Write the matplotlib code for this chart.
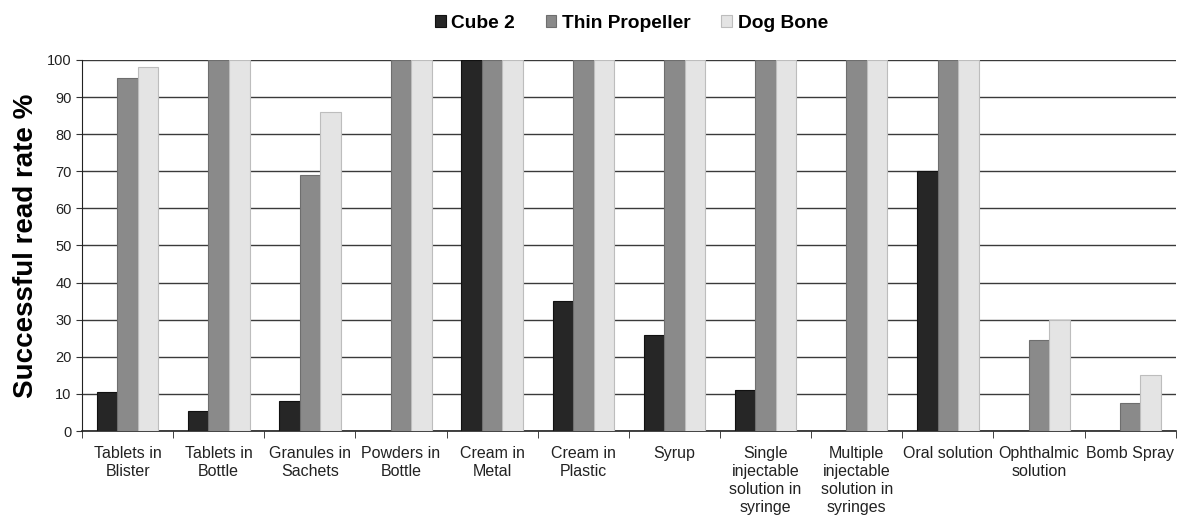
import matplotlib
matplotlib.use('Agg')
import matplotlib.pyplot as plt
import numpy as np

plt.rcParams['font.family'] = ['Liberation Sans', 'DejaVu Sans']

# Data
categories = [
    "Tablets in\nBlister", "Tablets in\nBottle", "Granules in\nSachets",
    "Powders in\nBottle", "Cream in\nMetal", "Cream in\nPlastic", "Syrup",
    "Single\ninjectable\nsolution in\nsyringe",
    "Multiple\ninjectable\nsolution in\nsyringes",
    "Oral solution", "Ophthalmic\nsolution", "Bomb Spray",
]
series_names = ["Cube 2", "Thin Propeller", "Dog Bone"]
cube2 = [10.5, 5.5, 8, 0, 100, 35, 26, 11, 0, 70, 0, 0]
thin_propeller = [95, 100, 69, 100, 100, 100, 100, 100, 100, 100, 24.5, 7.5]
dog_bone = [98, 100, 86, 100, 100, 100, 100, 100, 100, 100, 30, 15]
y_ticks = list(range(0, 101, 10))

fills = ['#262626', '#8a8a8a', '#e4e4e4']
edges = ['#111111', '#6e6e6e', '#bdbdbd']

fig = plt.figure(figsize=(11.96, 5.21), dpi=100)
ax = fig.add_axes([0.0686, 0.1727, 0.9144, 0.7123])

x = np.arange(len(categories))
w = 0.225
for i, vals in enumerate([cube2, thin_propeller, dog_bone]):
    ax.bar(x + (i - 1) * w, vals, width=w, color=fills[i], edgecolor=edges[i],
           linewidth=0.8, label=series_names[i], zorder=3)

ax.set_xlim(-0.5, len(categories) - 0.5)
ax.set_ylim(0, 100)
ax.set_yticks(y_ticks)
ax.tick_params(axis='y', labelsize=10.5, length=4, direction='out', color='#333333',
               labelcolor='#222222')
ax.yaxis.grid(True, color='#3a3a3a', linewidth=1.0, zorder=0)

ax.set_xticks(x)
ax.set_xticklabels(categories, fontsize=11.5, va='top', linespacing=1.25, color='#222222')
ax.tick_params(axis='x', which='major', length=0, pad=11)
ax.set_xticks(np.arange(-0.5, len(categories), 1.0), minor=True)
ax.tick_params(axis='x', which='minor', length=5, direction='out', color='#222222')

for s in ['top', 'right']:
    ax.spines[s].set_visible(False)
ax.spines['left'].set_color('#222222')
ax.spines['bottom'].set_color('#222222')
ax.spines['bottom'].set_linewidth(1.2)

ax.set_ylabel("Successful read rate %", fontsize=20, fontweight='bold', labelpad=6)

leg = fig.legend(loc='upper center', bbox_to_anchor=(0.528, 1.005), ncol=3, frameon=False,
                 prop={'weight': 'bold', 'size': 13.8}, handlelength=0.55, handleheight=0.6,
                 handletextpad=0.3, columnspacing=1.6)

plt.savefig('out.png', dpi=100)
plt.close()
